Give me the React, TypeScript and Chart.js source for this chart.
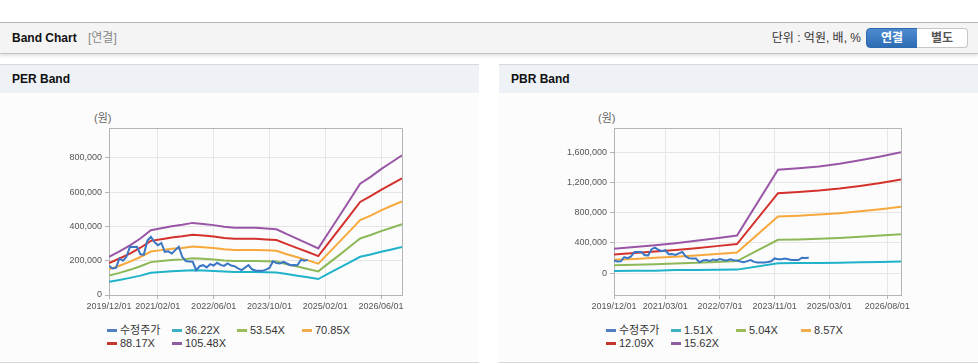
import React, { useEffect, useRef } from 'react';
import { Chart, registerables } from 'chart.js';

Chart.register(...registerables);

const FONT = "'Liberation Sans', Arial, 'Noto Sans CJK KR', sans-serif";

// ---------- shared ----------
const lineColors = ['#3a76c4', '#1fb2c9', '#8db857', '#f6a83b', '#d3312c', '#9a56a6'];
const legendColors = ['#4f7fc0', '#3fb0c2', '#9bbb59', '#f0ad4e', '#c0392b', '#8e5ea2'];

// 수정주가, monthly from 2019/12 (month index 0)
const priceValues = [
  170000, 155000, 158000, 213000, 200000, 223000, 281000, 280000, 281000, 238000,
  236000, 318000, 339000, 310000, 290000, 304000, 252000, 255000, 242000, 262000,
  281000, 223000, 198000, 196000, 194000, 145000, 168000, 174000, 161000, 180000,
  172000, 188000, 176000, 170000, 184000, 172000, 168000, 155000, 145000, 160000,
  174000, 150000, 143000, 141000, 141000, 148000, 158000, 196000, 186000, 184000,
  194000, 184000, 174000, 175000, 174000, 205000, 200000, 205000,
];

// ---------- PER ----------
const perSeriesNames = ['수정주가', '36.22X', '53.54X', '70.85X', '88.17X', '105.48X'];
const perBandMonths = [0, 3, 6, 9, 12, 15, 18, 21, 24, 27, 30, 33, 36, 39, 42, 45, 48, 51, 54, 57, 60, 63, 66, 69, 72, 75, 78, 81, 84];
const per36 = [77000, 88000, 100000, 113000, 130000, 134000, 138000, 141000, 145000, 143000, 140000, 137000, 135000, 135000, 135000, 133000, 132000, 122000, 113000, 103000, 93000, 126000, 158000, 191000, 223000, 237000, 252000, 266000, 280000];
const per53 = [113000, 129000, 147000, 168000, 192000, 198000, 204000, 208000, 214000, 211000, 207000, 202000, 199000, 199000, 199000, 197000, 195000, 180000, 166000, 152000, 138000, 186000, 233000, 282000, 330000, 350000, 373000, 393000, 414000];
const per70 = [150000, 171000, 195000, 222000, 254000, 262000, 270000, 275000, 283000, 279000, 274000, 267000, 263000, 263000, 263000, 261000, 258000, 238000, 220000, 202000, 183000, 246000, 309000, 373000, 437000, 463000, 494000, 521000, 547000];
const per88 = [186000, 213000, 242000, 276000, 316000, 326000, 336000, 343000, 352000, 347000, 341000, 333000, 328000, 328000, 328000, 324000, 321000, 297000, 274000, 251000, 227000, 306000, 385000, 464000, 543000, 577000, 614000, 648000, 681000];
const per105 = [223000, 255000, 290000, 330000, 378000, 390000, 402000, 410000, 421000, 415000, 408000, 398000, 392000, 392000, 392000, 388000, 384000, 355000, 328000, 300000, 272000, 366000, 460000, 555000, 650000, 690000, 735000, 775000, 815000];
const perTickMonths = [0, 14, 30, 46, 62, 78];
const perTickLabels = ['2019/12/01', '2021/02/01', '2022/06/01', '2023/10/01', '2025/02/01', '2026/06/01'];
const perYTicks = [0, 200000, 400000, 600000, 800000];

// ---------- PBR ----------
const pbrSeriesNames = ['수정주가', '1.51X', '5.04X', '8.57X', '12.09X', '15.62X'];
const pbrBandMonths = [0, 6, 12, 18, 24, 30, 36, 48, 54, 60, 66, 72, 78, 84];
const pbr151 = [31000, 32000, 33000, 43000, 44000, 45000, 48000, 132000, 134000, 136000, 140000, 144000, 150000, 155000];
const pbr504 = [104000, 111000, 119000, 128000, 138000, 149000, 160000, 441000, 447000, 455000, 466000, 481000, 497000, 516000];
const pbr857 = [177000, 189000, 203000, 218000, 235000, 253000, 273000, 750000, 760000, 774000, 793000, 818000, 845000, 877000];
const pbr1209 = [249000, 267000, 286000, 307000, 331000, 358000, 385000, 1057000, 1072000, 1091000, 1118000, 1153000, 1192000, 1237000];
const pbr1562 = [322000, 345000, 370000, 397000, 428000, 462000, 497000, 1366000, 1385000, 1410000, 1445000, 1490000, 1540000, 1598000];
const pbrTickMonths = [0, 15, 31, 47, 63, 80];
const pbrTickLabels = ['2019/12/01', '2021/03/01', '2022/07/01', '2023/11/01', '2025/03/01', '2026/08/01'];
const pbrYTicks = [0, 400000, 800000, 1200000, 1600000];

const framePlugin = {
  id: 'plotFrame',
  afterDraw(chart: any) {
    const { ctx, chartArea: a } = chart;
    ctx.save();
    ctx.strokeStyle = '#b4b4b4';
    ctx.lineWidth = 1;
    ctx.beginPath();
    ctx.moveTo(Math.round(a.left), Math.round(a.top) + 0.5);
    ctx.lineTo(Math.round(a.right) + 0.5, Math.round(a.top) + 0.5);
    ctx.lineTo(Math.round(a.right) + 0.5, Math.round(a.bottom));
    ctx.stroke();
    ctx.restore();
  },
};

type BandProps = {
  names: string[];
  bandMonths: number[];
  bands: number[][];
  price: number[];
  tickMonths: number[];
  tickLabels: string[];
  yTicks: number[];
  yMin: number;
  yMax: number;
  yAxisWidth: number;
};

const CANVAS_W = 479;
const CANVAS_H = 220;
const PLOT_RIGHT = 402;

function BandCanvas(p: BandProps) {
  const ref = useRef<HTMLCanvasElement | null>(null);
  useEffect(() => {
    if (!ref.current) return;
    const datasets: any[] = [
      {
        label: p.names[0],
        data: p.price.map((v, i) => ({ x: i, y: v })),
        borderColor: lineColors[0],
        backgroundColor: lineColors[0],
        borderWidth: 2,
        pointRadius: 0,
        tension: 0,
      },
      ...p.bands.map((arr, k) => ({
        label: p.names[k + 1],
        data: arr.map((v, i) => ({ x: p.bandMonths[i], y: v })),
        borderColor: lineColors[k + 1],
        backgroundColor: lineColors[k + 1],
        borderWidth: 2,
        pointRadius: 0,
        tension: 0,
      })),
    ];
    const tickFont = { family: FONT, size: 9 };
    const chart = new Chart(ref.current, {
      type: 'line',
      data: { datasets },
      plugins: [framePlugin],
      options: {
        responsive: false,
        animation: false,
        events: [],
        layout: { padding: { left: 0, right: CANVAS_W - PLOT_RIGHT, top: 28, bottom: 0 } },
        plugins: { legend: { display: false }, tooltip: { enabled: false } },
        scales: {
          x: {
            type: 'linear',
            min: 0,
            max: 84,
            afterBuildTicks: (s: any) => {
              s.ticks = p.tickMonths.map((v) => ({ value: v }));
            },
            afterFit: (s: any) => {
              s.height = 25;
            },
            ticks: {
              autoSkip: false,
              maxRotation: 0,
              minRotation: 0,
              font: tickFont,
              color: '#555',
              padding: 2,
              callback: (v: any) => {
                const i = p.tickMonths.indexOf(Number(v));
                return i >= 0 ? p.tickLabels[i] : '';
              },
            },
            grid: { color: '#e6e6e6', tickLength: 4, tickColor: '#b4b4b4' },
            border: { color: '#b4b4b4' },
          },
          y: {
            type: 'linear',
            min: p.yMin,
            max: p.yMax,
            afterBuildTicks: (s: any) => {
              s.ticks = p.yTicks.map((v) => ({ value: v }));
            },
            afterFit: (s: any) => {
              s.width = p.yAxisWidth;
            },
            ticks: {
              font: tickFont,
              color: '#555',
              padding: 3,
              callback: (v: any) => Number(v).toLocaleString('en-US'),
            },
            grid: { color: '#e6e6e6', tickLength: 4, tickColor: '#b4b4b4' },
            border: { color: '#b4b4b4' },
          },
        },
      } as any,
    });
    return () => chart.destroy();
  }, []);
  return (
    <canvas
      ref={ref}
      width={CANVAS_W}
      height={CANVAS_H}
      style={{ position: 'absolute', left: 0, top: 35, width: CANVAS_W, height: CANVAS_H }}
    />
  );
}

function Legend({ names }: { names: string[] }) {
  return (
    <>
      {names.map((n, i) => {
        const col = i % 4;
        const row = Math.floor(i / 4);
        return (
          <div
            key={n}
            style={{
              position: 'absolute',
              left: 107 + col * 65,
              top: 258 + row * 13.3,
              height: 14,
              lineHeight: '14px',
              fontSize: 11,
              color: '#333',
              whiteSpace: 'nowrap',
              fontFamily: FONT,
            }}
          >
            <span
              style={{
                display: 'inline-block',
                width: 10,
                height: 3,
                background: legendColors[i],
                verticalAlign: 'middle',
                marginRight: 3,
                position: 'relative',
                top: -1,
              }}
            />
            {n}
          </div>
        );
      })}
    </>
  );
}

function Panel({ left, title, unitLeft, children }: { left: number; title: string; unitLeft: number; children: any }) {
  return (
    <div
      style={{
        position: 'absolute',
        left,
        top: 64,
        width: 479,
        height: 297,
        borderTop: '1px solid #d8d8d8',
        borderBottom: '1px solid #d8d8d8',
        background: '#fcfcfc',
      }}
    >
      <div style={{ position: 'absolute', left: 0, top: 0, width: 479, height: 28, background: '#eef2f7' }}>
        <span
          style={{
            position: 'absolute',
            left: 12,
            top: 0,
            lineHeight: '28px',
            fontSize: 12,
            fontWeight: 'bold',
            color: '#111',
          }}
        >
          {title}
        </span>
      </div>
      <span
        style={{
          position: 'absolute',
          left: unitLeft,
          top: 46,
          fontSize: 11,
          lineHeight: '14px',
          color: '#666',
        }}
      >
        (원)
      </span>
      {children}
    </div>
  );
}

export default function App() {
  return (
    <div
      style={{
        position: 'absolute',
        left: 0,
        top: 0,
        width: 978,
        height: 364,
        overflow: 'hidden',
        background: '#fff',
        fontFamily: FONT,
      }}
    >
      {/* header */}
      <div
        style={{
          position: 'absolute',
          left: 0,
          top: 22,
          width: 978,
          height: 30,
          borderTop: '1px solid #b4b4b4',
          borderBottom: '1px solid #c4c4c4',
          background: '#f4f4f4',
          boxShadow: '0 2px 3px rgba(0,0,0,0.12)',
        }}
      >
        <span style={{ position: 'absolute', left: 12, top: 0, lineHeight: '30px', fontSize: 12, fontWeight: 'bold', color: '#111' }}>
          Band Chart
        </span>
        <span style={{ position: 'absolute', left: 88, top: 0, lineHeight: '30px', fontSize: 12, color: '#888' }}>[연결]</span>
        <span style={{ position: 'absolute', right: 117, top: 0, lineHeight: '31px', fontSize: 12, color: '#333', whiteSpace: 'nowrap' }}>
          단위 : 억원, 배, %
        </span>
        <div
          style={{
            position: 'absolute',
            left: 866,
            top: 5,
            width: 50,
            height: 18,
            border: '1px solid #2d69ae',
            borderRadius: '4px 0 0 4px',
            background: 'linear-gradient(#4d8bd0, #2e6db4)',
            color: '#fff',
            fontWeight: 'bold',
            fontSize: 12,
            lineHeight: '18px',
            textAlign: 'center',
          }}
        >
          연결
        </div>
        <div
          style={{
            position: 'absolute',
            left: 917,
            top: 5,
            width: 50,
            height: 18,
            border: '1px solid #c6c6c6',
            borderLeft: 'none',
            borderRadius: '0 4px 4px 0',
            background: '#fff',
            color: '#555',
            fontWeight: 'bold',
            fontSize: 12,
            lineHeight: '18px',
            textAlign: 'center',
          }}
        >
          별도
        </div>
      </div>

      <Panel left={0} title="PER Band" unitLeft={94}>
        <BandCanvas
          names={perSeriesNames}
          bandMonths={perBandMonths}
          bands={[per36, per53, per70, per88, per105]}
          price={priceValues}
          tickMonths={perTickMonths}
          tickLabels={perTickLabels}
          yTicks={perYTicks}
          yMin={0}
          yMax={975000}
          yAxisWidth={109}
        />
        <Legend names={perSeriesNames} />
      </Panel>

      <Panel left={499} title="PBR Band" unitLeft={99}>
        <BandCanvas
          names={pbrSeriesNames}
          bandMonths={pbrBandMonths}
          bands={[pbr151, pbr504, pbr857, pbr1209, pbr1562]}
          price={priceValues}
          tickMonths={pbrTickMonths}
          tickLabels={pbrTickLabels}
          yTicks={pbrYTicks}
          yMin={-287000}
          yMax={1917000}
          yAxisWidth={115}
        />
        <Legend names={pbrSeriesNames} />
      </Panel>
    </div>
  );
}
